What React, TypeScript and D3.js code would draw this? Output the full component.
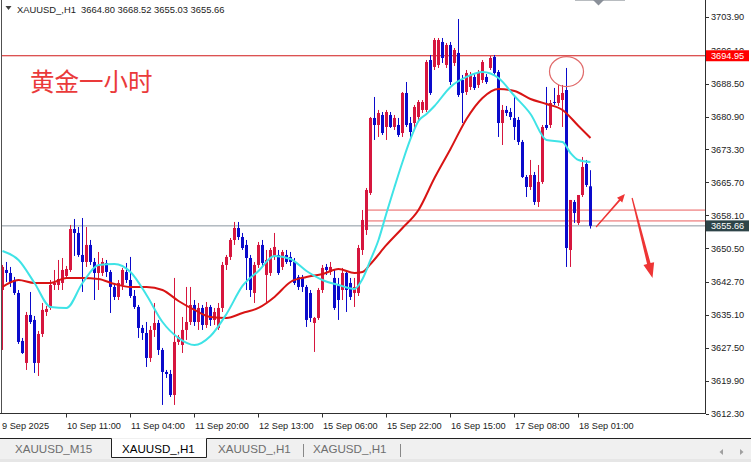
import React from 'react';
import * as d3 from 'd3';

const W = 751;
const H = 462;

// ---- candle data (XAUUSD H1) ----
const open = [3640.85,3645.47,3644.78,3643.16,3640.16,3629.08,3624.00,3635.08,3633.93,3624.00,
3630.69,3635.77,3636.70,3642.01,3642.01,3642.47,3644.09,3645.47,3654.94,3654.02,
3648.94,3647.32,3651.25,3647.32,3644.78,3644.78,3647.09,3645.01,3641.55,3639.24,
3642.01,3645.01,3643.16,3639.47,3636.93,3632.08,3630.92,3625.15,3631.62,3633.23,
3627.00,3621.92,3621.45,3616.60,3628.85,3628.15,3631.62,3633.46,3637.39,3633.46,
3636.70,3632.77,3636.93,3633.93,3632.08,3636.70,3646.63,3648.48,3652.40,3655.17,
3653.09,3651.25,3648.24,3640.16,3646.63,3651.25,3644.32,3644.78,3648.48,3648.94,
3646.17,3648.94,3648.48,3647.32,3643.86,3643.63,3641.55,3640.16,3633.23,3634.39,
3640.85,3646.17,3645.01,3643.63,3642.01,3640.85,3644.78,3642.47,3640.16,3640.16,
3650.09,3654.71,3663.26,3680.58,3678.96,3681.27,3678.50,3681.27,3678.50,3678.96,
3677.11,3686.35,3679.42,3679.42,3680.81,3682.43,3682.43,3693.97,3692.36,3692.82,
3698.13,3692.82,3697.44,3693.28,3695.59,3689.35,3686.58,3687.74,3690.05,3688.20,
3689.35,3690.05,3692.13,3694.67,3691.20,3679.42,3682.43,3681.96,3680.58,3680.12,
3675.04,3666.95,3664.64,3667.41,3661.18,3665.80,3678.96,3678.96,3684.27,3684.04,
3684.73,3687.04,3650.09,3661.18,3656.33,3662.79,3669.95,3664.80];
const high = [3646.63,3647.32,3646.17,3643.86,3640.85,3629.77,3635.77,3640.39,3634.85,3631.39,
3637.85,3637.16,3643.16,3645.47,3647.78,3648.24,3646.40,3655.87,3657.25,3655.40,
3657.48,3655.40,3652.40,3648.24,3649.63,3648.24,3647.78,3645.47,3642.47,3643.16,
3645.94,3647.09,3648.48,3640.85,3637.39,3632.77,3633.46,3632.54,3637.85,3633.93,
3627.46,3622.38,3622.38,3643.63,3630.46,3634.62,3641.55,3641.55,3638.54,3637.85,
3637.39,3638.08,3637.39,3636.70,3637.85,3647.32,3648.94,3652.86,3656.56,3656.56,
3654.02,3652.40,3648.94,3647.32,3651.94,3652.40,3650.09,3650.55,3654.02,3650.09,
3650.09,3650.09,3649.63,3648.24,3644.32,3644.32,3642.01,3640.85,3634.62,3641.32,
3646.63,3646.86,3647.32,3645.47,3643.63,3645.94,3645.01,3643.63,3643.63,3651.25,
3659.33,3664.41,3680.81,3685.43,3682.43,3681.96,3682.43,3681.96,3681.27,3680.58,
3686.58,3688.89,3680.81,3683.58,3684.73,3684.73,3693.97,3695.13,3699.05,3699.05,
3699.05,3697.90,3698.13,3696.74,3703.44,3690.51,3691.66,3691.20,3690.74,3691.66,
3693.97,3690.74,3694.90,3695.13,3691.66,3683.58,3683.35,3682.89,3685.43,3680.81,
3675.50,3667.41,3670.88,3668.11,3669.72,3678.96,3687.74,3684.73,3687.51,3688.20,
3688.20,3692.13,3661.64,3661.64,3662.79,3671.57,3670.88,3668.52];
const low = [3627.00,3642.70,3641.55,3639.70,3628.38,3626.07,3622.38,3633.00,3621.69,3620.99,
3630.00,3634.85,3636.24,3640.85,3640.85,3640.85,3643.63,3645.01,3648.71,3648.48,
3640.39,3646.17,3646.63,3638.54,3640.85,3644.09,3643.86,3635.54,3638.54,3638.54,
3640.85,3642.47,3639.01,3636.47,3629.77,3629.31,3623.07,3624.23,3630.00,3625.84,
3614.30,3620.53,3616.14,3614.30,3628.15,3626.30,3629.31,3632.77,3632.54,3631.62,
3631.62,3632.08,3632.54,3632.77,3631.62,3635.77,3645.47,3647.78,3651.25,3652.40,
3650.09,3640.85,3639.24,3637.85,3645.94,3646.40,3638.08,3644.09,3647.78,3644.32,
3645.47,3646.86,3646.40,3642.01,3640.85,3640.39,3632.31,3633.46,3626.54,3633.93,
3640.16,3644.32,3644.32,3636.24,3633.93,3638.54,3635.77,3638.54,3636.93,3639.47,
3648.94,3653.56,3662.79,3675.50,3676.19,3676.65,3675.50,3678.27,3677.81,3676.19,
3676.19,3678.50,3675.50,3678.27,3680.12,3681.73,3681.96,3685.89,3691.66,3692.13,
3693.28,3692.13,3688.20,3692.59,3685.43,3679.42,3685.89,3687.04,3687.04,3687.51,
3688.66,3688.43,3691.66,3690.51,3676.19,3674.34,3681.04,3680.12,3675.50,3674.34,
3666.72,3662.33,3663.95,3660.49,3660.02,3665.34,3677.81,3678.27,3683.58,3683.35,
3678.50,3646.17,3646.17,3656.33,3655.87,3662.33,3664.64,3655.03];
const close = [3646.17,3644.78,3642.70,3640.16,3628.85,3626.30,3635.08,3633.46,3624.00,3630.69,
3636.24,3636.47,3642.01,3642.47,3643.39,3645.47,3645.70,3654.94,3654.02,3648.94,
3647.32,3651.25,3647.32,3644.78,3646.63,3647.32,3645.01,3641.55,3639.24,3642.47,
3645.47,3643.16,3639.47,3636.93,3632.08,3630.92,3625.15,3631.62,3633.23,3627.00,
3621.92,3621.45,3616.60,3628.85,3630.00,3631.62,3633.46,3637.39,3633.46,3636.70,
3632.77,3636.93,3633.93,3635.77,3636.70,3646.63,3648.48,3652.40,3655.17,3653.09,
3650.55,3648.24,3640.85,3646.63,3651.25,3647.09,3647.78,3650.09,3650.79,3644.78,
3649.63,3647.32,3647.32,3642.47,3641.55,3641.55,3633.93,3634.39,3634.39,3640.85,
3645.94,3645.47,3646.17,3636.70,3638.54,3644.78,3640.85,3639.24,3641.55,3650.55,
3657.02,3663.95,3680.58,3678.96,3681.73,3677.11,3681.96,3678.50,3680.58,3676.65,
3686.35,3678.96,3677.34,3683.12,3684.27,3684.27,3693.51,3686.35,3698.59,3698.59,
3694.43,3697.44,3688.89,3696.28,3685.89,3686.35,3690.97,3690.51,3687.51,3690.97,
3693.51,3688.89,3694.43,3690.97,3679.42,3682.43,3681.73,3680.81,3678.50,3675.04,
3666.95,3664.64,3667.41,3661.18,3665.80,3678.50,3678.27,3684.04,3684.04,3685.89,
3686.35,3650.55,3661.64,3658.64,3662.79,3669.26,3665.10,3655.66];

// ---- moving averages (read at every few bars) ----
const maFastBars = [0,4,8,12,16,20,24,28,32,36,40,44,48,52,56,60,64,68,72,76,80,84,88,90,92,94,96,98,100,102,104,106,108,112,116,120,124,128,132,136,140,142,144,147];
const maFastVals = [3649.86,3647.78,3642.47,3636.93,3636.70,3642.47,3646.63,3646.86,3645.01,3639.70,3633.46,3629.77,3628.15,3630.23,3635.31,3641.78,3645.24,3648.71,3648.01,3645.24,3643.16,3642.01,3641.09,3643.39,3647.78,3652.40,3658.64,3664.64,3670.42,3675.73,3679.89,3681.50,3683.35,3687.74,3690.05,3691.20,3689.82,3685.66,3681.50,3675.50,3675.04,3672.49,3670.88,3670.42];
const maSlowBars = [0,4,8,12,16,20,24,28,32,36,40,44,48,52,56,60,64,68,72,76,80,84,88,90,92,96,100,104,108,112,116,120,124,128,132,136,140,144,147];
const maSlowVals = [3641.55,3643.16,3642.47,3642.47,3643.63,3643.63,3643.39,3642.24,3641.55,3641.55,3640.85,3638.31,3636.24,3634.62,3634.39,3635.54,3636.70,3639.24,3642.70,3643.86,3644.55,3645.70,3644.78,3645.01,3646.86,3651.25,3655.17,3659.33,3666.72,3673.42,3680.35,3685.20,3687.28,3686.81,3684.97,3683.81,3682.43,3678.73,3675.96];

// ---- axes ----
const priceTicks = [3703.90,3696.10,3688.50,3680.90,3673.30,3665.70,3658.10,3650.50,3642.70,3635.10,3627.50,3619.90,3612.30];
const timeTickBars = [0,16,32,48,64,80,96,112,128,144];
const timeTickLabels = ['9 Sep 2025','10 Sep 11:00','11 Sep 04:00','11 Sep 20:00','12 Sep 13:00','15 Sep 06:00','15 Sep 22:00','16 Sep 15:00','17 Sep 08:00','18 Sep 01:00'];

const resistance = 3694.95;
const bidPrice = 3655.66;
const zoneTop = 3659.3;
const zoneBottom = 3656.8;
const header = 'XAUUSD_,H1  3664.80 3668.52 3655.03 3655.66';
const tabs = ['XAUUSD_M15', 'XAUUSD_,H1', 'XAUUSD_,H1', 'XAGUSD_,H1'];

const BULL = '#d6163e';
const BEAR = '#0a0acb';
const FAST = '#3fe3e6';
const SLOW = '#d81414';
const FONT = '"Liberation Sans", Arial, sans-serif';

const PLOT_L = 1;
const PLOT_R = 705;
const PLOT_B = 413.5;

function arrowPath(x0: number, y0: number, x1: number, y1: number, w0: number, w1: number, headLen: number, headHalf: number) {
  const dx = x1 - x0, dy = y1 - y0;
  const len = Math.hypot(dx, dy);
  const ux = dx / len, uy = dy / len;
  const nx = -uy, ny = ux;
  const bx = x1 - ux * headLen, by = y1 - uy * headLen;
  const p = [
    [x0 + nx * w0 / 2, y0 + ny * w0 / 2],
    [bx + nx * w1 / 2, by + ny * w1 / 2],
    [bx + nx * headHalf, by + ny * headHalf],
    [x1, y1],
    [bx - nx * headHalf, by - ny * headHalf],
    [bx - nx * w1 / 2, by - ny * w1 / 2],
    [x0 - nx * w0 / 2, y0 - ny * w0 / 2],
  ];
  return 'M' + p.map(q => q[0].toFixed(2) + ',' + q[1].toFixed(2)).join('L') + 'Z';
}

export default function App() {
  const n = open.length;
  const x = d3.scaleLinear().domain([0, 147]).range([2.5, 590.5]);
  const y = d3.scaleLinear().domain([3612.3, 3703.9]).range([413.6, 17]);

  const fastLine = d3.line<number>()
    .x((_, i) => x(maFastBars[i]))
    .y(v => y(v))
    .curve(d3.curveMonotoneX);
  const slowLine = d3.line<number>()
    .x((_, i) => x(maSlowBars[i]))
    .y(v => y(v))
    .curve(d3.curveMonotoneX);

  const candles = d3.range(n).map(i => {
    const cx = x(i);
    const bull = close[i] >= open[i];
    const col = bull ? BULL : BEAR;
    const top = y(Math.max(open[i], close[i]));
    const bot = y(Math.min(open[i], close[i]));
    return (
      <g key={i}>
        <line x1={cx} x2={cx} y1={y(high[i])} y2={y(low[i])} stroke={col} strokeWidth={1} />
        <rect x={cx - 1.5} y={top} width={3} height={Math.max(1, bot - top)} fill={col} />
      </g>
    );
  });

  const yRes = y(resistance);
  const yBid = y(bidPrice);
  const zoneX0 = x(91);

  // annotation arrows expressed in chart coordinates
  const up = [x(148.4), y(3655.4), x(155.6), y(3663.0)];
  const down = [x(157.4), y(3662.1), x(162.5), y(3643.6)];

  const tabX = [15, 122, 218, 313];

  return (
    <svg width={W} height={H} viewBox={`0 0 ${W} ${H}`} style={{ position: 'fixed', left: 0, top: 0, background: '#fff' }} fontFamily={FONT}>
      <rect x={0} y={0} width={W} height={H} fill="#fff" />
      <defs>
        <clipPath id="plot">
          <rect x={PLOT_L} y={0} width={PLOT_R - PLOT_L} height={PLOT_B} />
        </clipPath>
        <clipPath id="aboveTag">
          <rect x={700} y={0} width={51} height={yRes - 5.5} />
        </clipPath>
      </defs>

      <g clipPath="url(#plot)">
        {/* resistance line */}
        <line x1={PLOT_L} x2={PLOT_R} y1={yRes} y2={yRes} stroke="#d01818" strokeWidth={1} />
        {/* bid line */}
        <line x1={PLOT_L} x2={PLOT_R} y1={yBid} y2={yBid} stroke="#8a96a0" strokeWidth={1} />
        {/* support zone rectangle */}
        <rect x={zoneX0} y={y(zoneTop)} width={PLOT_R - zoneX0 + 2} height={y(zoneBottom) - y(zoneTop)} fill="none" stroke="#f3a3a3" strokeWidth={1.8} rx={1} />

        {candles}

        <path d={slowLine(maSlowVals) || ''} fill="none" stroke={SLOW} strokeWidth={2} />
        <path d={fastLine(maFastVals) || ''} fill="none" stroke={FAST} strokeWidth={2} />

        {/* circle at the spike high */}
        <ellipse cx={x(141)} cy={y(3691.3)} rx={17} ry={15} fill="none" stroke="#e06a6a" strokeWidth={1.2} />

        {/* arrows */}
        <path d={arrowPath(up[0], up[1], up[2], up[3], 1.2, 1.8, 8, 3.5)} fill="#ee3535" />
        <path d={arrowPath(down[0], down[1], down[2], down[3], 1.2, 3.6, 15, 5.5)} fill="#ee3535" />
      </g>

      {/* chart frame */}
      <line x1={PLOT_L + 0.5} x2={PLOT_L + 0.5} y1={0} y2={PLOT_B} stroke="#505050" strokeWidth={1} />
      <line x1={PLOT_R + 0.5} x2={PLOT_R + 0.5} y1={0} y2={PLOT_B} stroke="#303030" strokeWidth={1} />
      <line x1={0} x2={PLOT_R + 1} y1={PLOT_B} y2={PLOT_B} stroke="#303030" strokeWidth={1} />

      {/* one-click handle */}
      <line x1={575} x2={625} y1={0.5} y2={0.5} stroke="#b8bcc0" strokeWidth={1} />
      <path d="M593,0 L604,0 L598.5,5.5 Z" fill="#8a9099" />

      {/* header */}
      <path d="M5.5,6 L11.5,6 L8.5,10 Z" fill="#404040" />
      <text x={17} y={13} fontSize={9.4} fill="#222" style={{ whiteSpace: 'pre' }}>{header}</text>

      {/* title */}
      <text x={30} y={91} fontSize={24.5} fill="#ea3a3a" fontFamily='"Noto Sans CJK SC", sans-serif'>黄金一小时</text>

      {/* price axis */}
      {priceTicks.map(t => {
        const hidden = Math.abs(y(t) - yRes) < 8;
        return (
          <g key={t}>
            <line x1={PLOT_R + 1} x2={PLOT_R + 4} y1={Math.round(y(t)) + 0.5} y2={Math.round(y(t)) + 0.5} stroke="#303030" />
            <text x={711} y={y(t) + 3.3} fontSize={9.2} fill="#222" clipPath={hidden ? 'url(#aboveTag)' : undefined}>{t.toFixed(2)}</text>
          </g>
        );
      })}
      {/* price tags */}
      <rect x={706} y={yRes - 5.5} width={43} height={11} fill="#ff0000" />
      <text x={711} y={yRes + 3.3} fontSize={9.2} fill="#fff">{resistance.toFixed(2)}</text>
      <rect x={706} y={yBid - 5.5} width={43} height={11} fill="#2e4448" />
      <text x={711} y={yBid + 3.3} fontSize={9.2} fill="#fff">{bidPrice.toFixed(2)}</text>

      {/* time axis */}
      {timeTickBars.map((b, k) => (
        <g key={b}>
          {k > 0 && <line x1={x(b)} x2={x(b)} y1={PLOT_B} y2={PLOT_B + 4} stroke="#303030" />}
          <text x={k === 0 ? 2 : x(b) + 0.5} y={429} fontSize={9.2} fill="#222">{timeTickLabels[k]}</text>
        </g>
      ))}

      {/* tab bar */}
      <rect x={0} y={438} width={W} height={H - 438} fill="#f0f0f0" />
      <path d="M0,438.5 L111.5,438.5 L111.5,457.5 L206.5,457.5 L206.5,438.5 L751,438.5" fill="none" stroke="#222" strokeWidth={1} />
      <rect x={112} y={439} width={94} height={18} fill="#fff" />
      <rect x={0} y={459} width={W} height={3} fill="#e6e6e6" />
      {tabs.map((t, k) => (
        <text key={k} x={tabX[k]} y={453} fontSize={11.6} fill={k === 1 ? '#000' : '#6e6e6e'}>{t}</text>
      ))}
      <line x1={303.5} x2={303.5} y1={444} y2={457} stroke="#888" />
      <line x1={400.5} x2={400.5} y1={444} y2={457} stroke="#888" />
      <path d="M723,449 L719.5,452 L723,455 Z" fill="#a0a0a0" />
      <path d="M740,449 L743.5,452 L740,455 Z" fill="#a0a0a0" />
    </svg>
  );
}
